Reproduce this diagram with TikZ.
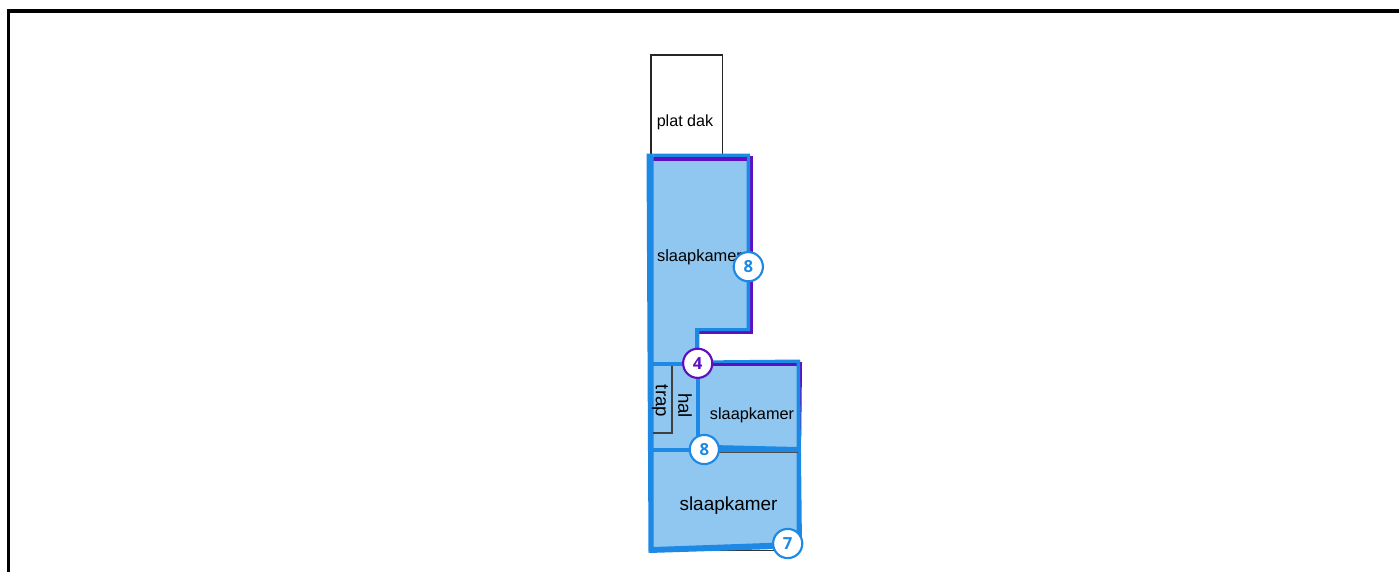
\documentclass[tikz,border=0pt]{standalone}
\usepackage{fontspec}
\setmainfont{Liberation Sans}
\newfontfamily\badgefont{Open Sans}
\definecolor{blueA}{HTML}{1E88E5}
\definecolor{fillA}{HTML}{90C7F1}
\definecolor{purp}{HTML}{5E0FC4}
\tikzset{
 x=0.75pt,y=-0.75pt,
 purpline/.style={draw=purp,line width=2.1pt,line join=miter},
 badge/.style={circle,draw=#1,fill=white,line width=1.6pt,minimum size=21.9pt,inner sep=0pt,text=#1,font=\fontsize{12.5pt}{12.5pt}\badgefont\bfseries},
 lab/.style={inner sep=0pt,text=black},
}
\begin{document}
\begin{tikzpicture}
\useasboundingbox (0,0) rectangle (1399,572);
% frame
\draw[black,line width=2.3pt] (8.5,572) -- (8.5,11) -- (1399,11);
% flat roof
\draw[black!85,line width=1pt] (651,155) -- (651,55) -- (722.5,55) -- (722.5,155);
% fills
\fill[fillA] (650,156) -- (749,156) -- (749,331) -- (697,331) -- (697,363) -- (799,361) -- (799,545) -- (776,546) -- (651,551) -- cycle;
% black bottom line
\draw[black!80,line width=1pt] (720,550.5) -- (780,550.5);
% purple edges
\draw[purpline] (751.3,156) -- (751.3,332.5) -- (699,332.5);
\fill[purp] (799,362) -- (802,362) -- (801.2,440) -- (799,440) -- cycle;
% blue walls
\fill[blueA] (653.3,157.5) -- (746.7,157.5) -- (746.7,328) -- (695,328) -- (695,362.5) -- (699.3,362.5) -- (699.3,331) -- (750,331) -- (750,153.5) -- (653.3,153.5) -- cycle;
\draw[purp,line width=2.6pt] (651,159.2) -- (747,159.2);
\fill[blueA] (646.5,153.5) -- (653.5,153.5) -- (653.5,547) -- (648.5,553) -- cycle;
\fill[blueA] (653,362) -- (699,362) -- (699,366) -- (653,366) -- cycle;
\fill[blueA] (697,360.5) -- (800,359.5) -- (800,363.5) -- (697,363.5) -- cycle;
\draw[purp,line width=2pt] (700,364.7) -- (798,364.7);
\fill[blueA] (696,364) -- (700,364) -- (700,446) -- (696,446) -- cycle;
\fill[blueA] (796.7,360) -- (800,360) -- (802,548) -- (796.7,548) -- cycle;
\fill[blueA] (653,447.7) -- (696,447.7) -- (696,452) -- (653,452) -- cycle;
\fill[blueA] (712,445) -- (798,447) -- (798,452) -- (712,452) -- cycle;
\fill[blueA] (648.5,553) -- (775,549) -- (775,542.7) -- (653,547) -- cycle;
\draw[black!70,line width=.6pt] (712,452.2) -- (798,452.2);
% stairs
\draw[black!75,line width=.8pt] (672,366) -- (672,433) -- (653,433);
% labels
\node[lab,font=\fontsize{12.1pt}{14pt}\selectfont] (flat) at (685,122.5) {plat dak};
\node[lab,font=\fontsize{12.3pt}{14pt}\selectfont] (r1) at (699.5,257.5) {slaapkamer};
\node[lab,font=\fontsize{12.2pt}{14pt}\selectfont] (r2) at (752,415.5) {slaapkamer};
\node[lab,font=\fontsize{14.2pt}{16pt}\selectfont] (r3) at (728.5,505.5) {slaapkamer};
\node[lab,font=\fontsize{14pt}{16pt}\selectfont,rotate=-90] (hal) at (685,405.5) {hal};
\node[lab,font=\fontsize{14pt}{16pt}\selectfont,rotate=-90] (trap) at (660,401) {trap};
% badges
\node[badge=blueA] (b8a) at (748.3,266.7) {8};
\node[badge=purp] (b4) at (697.7,363.3) {4};
\node[badge=blueA] (b8b) at (704.3,449.5) {8};
\node[badge=blueA] (b7) at (787.7,543.5) {7};
\end{tikzpicture}
\end{document}
